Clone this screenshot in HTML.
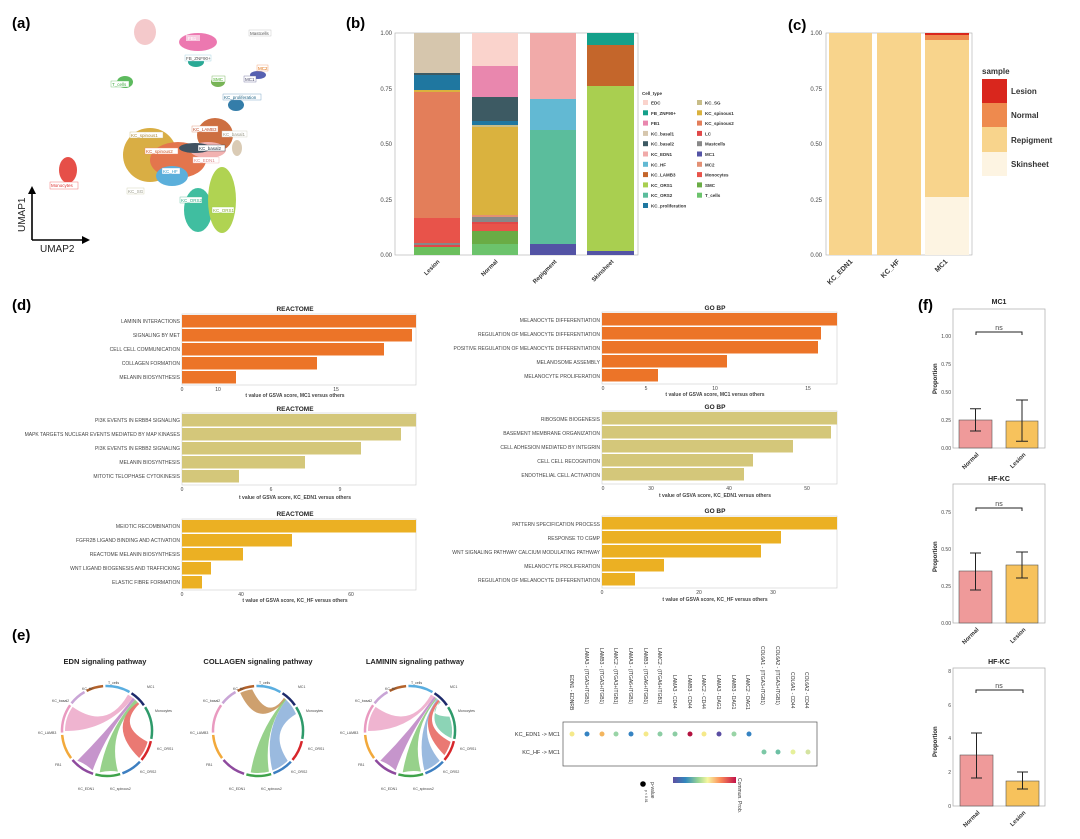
<!DOCTYPE html>
<html><head><meta charset="utf-8"><style>
body{margin:0;background:#fff}
svg{display:block;font-family:"Liberation Sans",sans-serif}
.pl{font-weight:bold;font-size:15px}
.t{font-size:5px;fill:#444}
.tk{font-size:6px;fill:#444}
.ti{font-size:6.5px;font-weight:bold;fill:#222}
</style></head><body>
<svg width="1080" height="839" viewBox="0 0 1080 839">
<defs>
<g id="chordring">
<circle r="45" fill="none" stroke="#5aaee0" stroke-width="2.5" stroke-dasharray="25.1 400" transform="rotate(-92)"/>
<circle r="45" fill="none" stroke="#1d2a6b" stroke-width="2.5" stroke-dasharray="17.3 400" transform="rotate(-57)"/>
<circle r="45" fill="none" stroke="#2e9a6a" stroke-width="2.5" stroke-dasharray="33 400" transform="rotate(-32)"/>
<circle r="45" fill="none" stroke="#d7262b" stroke-width="2.5" stroke-dasharray="21.2 400" transform="rotate(13)"/>
<circle r="45" fill="none" stroke="#3d7fc1" stroke-width="2.5" stroke-dasharray="21.2 400" transform="rotate(43)"/>
<circle r="45" fill="none" stroke="#3fa34a" stroke-width="2.5" stroke-dasharray="25.1 400" transform="rotate(73)"/>
<circle r="45" fill="none" stroke="#8e4a9e" stroke-width="2.5" stroke-dasharray="25.1 400" transform="rotate(108)"/>
<circle r="45" fill="none" stroke="#f2a93b" stroke-width="2.5" stroke-dasharray="25.1 400" transform="rotate(143)"/>
<circle r="45" fill="none" stroke="#e99ac0" stroke-width="2.5" stroke-dasharray="29 400" transform="rotate(178)"/>
<circle r="45" fill="none" stroke="#c9a5d6" stroke-width="2.5" stroke-dasharray="17.3 400" transform="rotate(218)"/>
<circle r="45" fill="none" stroke="#b4622a" stroke-width="2.5" stroke-dasharray="17.3 400" transform="rotate(243)"/>
</g>
</defs>

<!-- (a) -->
<text x="12" y="28" class="pl">(a)</text>
<g opacity="0.9">
<ellipse cx="145" cy="32" rx="11" ry="13" fill="#f3c4c6"/>
<ellipse cx="198" cy="42" rx="19" ry="9" fill="#ea6aa8"/>
<ellipse cx="196" cy="62" rx="8" ry="5" fill="#14a08a"/>
<ellipse cx="125" cy="82" rx="8" ry="6" fill="#4cb34d"/>
<ellipse cx="218" cy="82" rx="7" ry="5" fill="#6aac45"/>
<ellipse cx="258" cy="75" rx="8" ry="4" fill="#4550a8"/>
<ellipse cx="236" cy="105" rx="8" ry="6" fill="#1f6fa0"/>
<ellipse cx="68" cy="170" rx="9" ry="13" fill="#e43d35"/>
<ellipse cx="150" cy="155" rx="27" ry="27" fill="#d5a630"/>
<ellipse cx="178" cy="160" rx="28" ry="18" fill="#e0673a"/>
<ellipse cx="215" cy="135" rx="18" ry="17" fill="#c8602d"/>
<ellipse cx="208" cy="150" rx="18" ry="8" fill="#f1aaa9"/>
<ellipse cx="195" cy="148" rx="16" ry="5" fill="#2d4050"/>
<ellipse cx="172" cy="176" rx="16" ry="10" fill="#4aa7d8"/>
<ellipse cx="198" cy="210" rx="14" ry="22" fill="#2cb896"/>
<ellipse cx="222" cy="200" rx="14" ry="33" fill="#a8cf40"/>
<ellipse cx="237" cy="148" rx="5" ry="8" fill="#d6c6ad"/>
</g>
<g font-size="4.5" fill="#555">
<rect x="249" y="30" width="22" height="6" fill="#fff" stroke="#bbb" stroke-width=".4"/><text x="250" y="35">Mastcells</text>
<rect x="186" y="35" width="14" height="6" fill="#fff" opacity=".6"/><text x="188" y="40" fill="#fff">FB1</text>
<rect x="185" y="55" width="26" height="6" fill="#fff" stroke="#9cd" stroke-width=".4"/><text x="186" y="60">FB_ZNF90+</text>
<rect x="257" y="65" width="11" height="6" fill="#fff" stroke="#e96" stroke-width=".4"/><text x="258" y="70" fill="#d60">MC2</text>
<rect x="244" y="76" width="12" height="6" fill="#fff" stroke="#669" stroke-width=".4"/><text x="245" y="81" fill="#446">MC1</text>
<rect x="212" y="76" width="13" height="6" fill="#fff" stroke="#6a4" stroke-width=".4"/><text x="213" y="81" fill="#4a2">SMC</text>
<rect x="111" y="81" width="18" height="6" fill="#fff" stroke="#6b6" stroke-width=".4"/><text x="112" y="86" fill="#4a4">T_cells</text>
<rect x="223" y="94" width="38" height="6" fill="#fff" stroke="#69b" stroke-width=".4"/><text x="224" y="99" fill="#268">KC_proliferation</text>
<rect x="192" y="126" width="26" height="6" fill="#fff" stroke="#d86" stroke-width=".4"/><text x="193" y="131" fill="#b42">KC_LAMB3</text>
<rect x="222" y="131" width="25" height="6" fill="#fff" stroke="#ccb" stroke-width=".4"/><text x="223" y="136" fill="#998">KC_basal1</text>
<rect x="130" y="132" width="33" height="6" fill="#fff" stroke="#cb7" stroke-width=".4"/><text x="131" y="137" fill="#a83">KC_spinous1</text>
<rect x="198" y="145" width="27" height="6" fill="#fff" stroke="#345" stroke-width=".4"/><text x="199" y="150" fill="#234">KC_basal2</text>
<rect x="145" y="148" width="33" height="6" fill="#fff" stroke="#e86" stroke-width=".4"/><text x="146" y="153" fill="#c52">KC_spinous2</text>
<rect x="193" y="157" width="26" height="6" fill="#fff" stroke="#eaa" stroke-width=".4"/><text x="194" y="162" fill="#d88">KC_EDN1</text>
<rect x="162" y="168" width="18" height="6" fill="#fff" stroke="#6ad" stroke-width=".4"/><text x="163" y="173" fill="#39c">KC_HF</text>
<rect x="127" y="188" width="17" height="6" fill="#fff" stroke="#cca" stroke-width=".4"/><text x="128" y="193" fill="#998">KC_SG</text>
<rect x="180" y="197" width="22" height="6" fill="#fff" stroke="#5b9" stroke-width=".4"/><text x="181" y="202" fill="#3a8">KC_ORS2</text>
<rect x="212" y="207" width="22" height="6" fill="#fff" stroke="#9c4" stroke-width=".4"/><text x="213" y="212" fill="#8a3">KC_ORS1</text>
<rect x="50" y="182" width="28" height="7" fill="#fff" stroke="#e55" stroke-width=".4"/><text x="51" y="187" fill="#d33">Monocytes</text>
</g>
<path d="M32 240 V192 M32 240 H84" stroke="#000" stroke-width="1.6" fill="none"/>
<path d="M28 194 L32 186 L36 194Z M82 236 L90 240 L82 244Z" fill="#000"/>
<text x="25" y="232" font-size="10" transform="rotate(-90 25 232)" fill="#222">UMAP1</text>
<text x="40" y="252" font-size="10" fill="#222">UMAP2</text>

<!-- (b) -->
<text x="346" y="28" class="pl">(b)</text>
<rect x="395" y="33" width="243" height="222" fill="none" stroke="#aaa" stroke-width=".6"/>
<g class="tk" text-anchor="end" font-size="5.5">
<text x="392" y="35">1.00</text><text x="392" y="91">0.75</text><text x="392" y="146">0.50</text><text x="392" y="202">0.25</text><text x="392" y="257">0.00</text>
</g>
<g>
<rect x="414" y="33" width="46" height="40" fill="#d6c6ad"/>
<rect x="414" y="73" width="46" height="2" fill="#3d5a63"/>
<rect x="414" y="75" width="46" height="15" fill="#1f77a0"/>
<rect x="414" y="90" width="46" height="2" fill="#dab23e"/>
<rect x="414" y="92" width="46" height="126" fill="#e37e5a"/>
<rect x="414" y="218" width="46" height="25" fill="#e8534a"/>
<rect x="414" y="243" width="46" height="2" fill="#888"/>
<rect x="414" y="245" width="46" height="2" fill="#e04848"/>
<rect x="414" y="247" width="46" height="8" fill="#6bbf5d"/>
</g>
<g>
<rect x="472" y="33" width="46" height="33" fill="#fad3cc"/>
<rect x="472" y="66" width="46" height="31" fill="#e987ae"/>
<rect x="472" y="97" width="46" height="24" fill="#3d5a63"/>
<rect x="472" y="121" width="46" height="4" fill="#1f77a0"/>
<rect x="472" y="125" width="46" height="2" fill="#c8bd88"/>
<rect x="472" y="127" width="46" height="88" fill="#dab23e"/>
<rect x="472" y="215" width="46" height="2" fill="#e39074"/>
<rect x="472" y="217" width="46" height="5" fill="#888"/>
<rect x="472" y="222" width="46" height="2" fill="#e04848"/>
<rect x="472" y="224" width="46" height="7" fill="#e8534a"/>
<rect x="472" y="231" width="46" height="13" fill="#6aac45"/>
<rect x="472" y="244" width="46" height="11" fill="#6cc36c"/>
</g>
<g>
<rect x="530" y="33" width="46" height="66" fill="#f1aaa9"/>
<rect x="530" y="99" width="46" height="31" fill="#62b9d3"/>
<rect x="530" y="130" width="46" height="114" fill="#5bbd9c"/>
<rect x="530" y="244" width="46" height="11" fill="#5353a5"/>
</g>
<g>
<rect x="587" y="33" width="47" height="12" fill="#14a08a"/>
<rect x="587" y="45" width="47" height="41" fill="#c4662b"/>
<rect x="587" y="86" width="47" height="165" fill="#a9cf50"/>
<rect x="587" y="251" width="47" height="4" fill="#5353a5"/>
</g>
<g font-size="6" font-weight="bold" fill="#333" text-anchor="end">
<text transform="translate(440,262) rotate(-45)">Lesion</text>
<text transform="translate(498,262) rotate(-45)">Normal</text>
<text transform="translate(557,262) rotate(-45)">Repigment</text>
<text transform="translate(614,262) rotate(-45)">Skinsheet</text>
</g>
<g font-size="4.5" fill="#333" font-weight="bold">
<text x="642" y="95">Cell_type</text>
<rect x="643" y="100" width="5" height="5" fill="#fad3cc"/><text x="651" y="104.5">EDC</text>
<rect x="643" y="110.3" width="5" height="5" fill="#14a08a"/><text x="651" y="114.8">FB_ZNF90+</text>
<rect x="643" y="120.6" width="5" height="5" fill="#e987ae"/><text x="651" y="125.1">FB1</text>
<rect x="643" y="130.9" width="5" height="5" fill="#d6c6ad"/><text x="651" y="135.4">KC_basal1</text>
<rect x="643" y="141.2" width="5" height="5" fill="#3d5a63"/><text x="651" y="145.7">KC_basal2</text>
<rect x="643" y="151.5" width="5" height="5" fill="#f1aaa9"/><text x="651" y="156">KC_EDN1</text>
<rect x="643" y="161.8" width="5" height="5" fill="#62b9d3"/><text x="651" y="166.3">KC_HF</text>
<rect x="643" y="172.1" width="5" height="5" fill="#c4662b"/><text x="651" y="176.6">KC_LAMB3</text>
<rect x="643" y="182.4" width="5" height="5" fill="#a9cf50"/><text x="651" y="186.9">KC_ORS1</text>
<rect x="643" y="192.7" width="5" height="5" fill="#5bbd9c"/><text x="651" y="197.2">KC_ORS2</text>
<rect x="643" y="203" width="5" height="5" fill="#1f77a0"/><text x="651" y="207.5">KC_proliferation</text>
<rect x="697" y="100" width="5" height="5" fill="#c8bd88"/><text x="705" y="104.5">KC_SG</text>
<rect x="697" y="110.3" width="5" height="5" fill="#dab23e"/><text x="705" y="114.8">KC_spinous1</text>
<rect x="697" y="120.6" width="5" height="5" fill="#e37e5a"/><text x="705" y="125.1">KC_spinous2</text>
<rect x="697" y="130.9" width="5" height="5" fill="#e04848"/><text x="705" y="135.4">LC</text>
<rect x="697" y="141.2" width="5" height="5" fill="#888"/><text x="705" y="145.7">Mastcells</text>
<rect x="697" y="151.5" width="5" height="5" fill="#5353a5"/><text x="705" y="156">MC1</text>
<rect x="697" y="161.8" width="5" height="5" fill="#e39074"/><text x="705" y="166.3">MC2</text>
<rect x="697" y="172.1" width="5" height="5" fill="#e8534a"/><text x="705" y="176.6">Monocytes</text>
<rect x="697" y="182.4" width="5" height="5" fill="#6aac45"/><text x="705" y="186.9">SMC</text>
<rect x="697" y="192.7" width="5" height="5" fill="#6cc36c"/><text x="705" y="197.2">T_cells</text>
</g>

<!-- (c) -->
<text x="788" y="30" class="pl">(c)</text>
<rect x="826" y="33" width="146" height="222" fill="none" stroke="#aaa" stroke-width=".6"/>
<g class="tk" text-anchor="end" font-size="6.5">
<text x="822" y="35">1.00</text><text x="822" y="91">0.75</text><text x="822" y="146">0.50</text><text x="822" y="202">0.25</text><text x="822" y="257">0.00</text>
</g>
<rect x="829" y="33" width="43" height="222" fill="#f8d48c"/>
<rect x="877" y="33" width="44" height="222" fill="#f8d48c"/>
<rect x="925" y="33" width="44" height="222" fill="#f8d48c"/>
<rect x="925" y="33" width="44" height="2" fill="#d9261d"/>
<rect x="925" y="35" width="44" height="5" fill="#ee8a4e"/>
<rect x="925" y="197" width="44" height="58" fill="#fdf4e2"/>
<g font-size="7" font-weight="bold" fill="#333" text-anchor="end">
<text transform="translate(853,262) rotate(-45)">KC_EDN1</text>
<text transform="translate(900,262) rotate(-45)">KC_HF</text>
<text transform="translate(948,262) rotate(-45)">MC1</text>
</g>
<text x="982" y="74" font-size="8" font-weight="bold" fill="#333">sample</text>
<rect x="982" y="79" width="25" height="24" fill="#d9261d"/>
<rect x="982" y="103" width="25" height="24" fill="#ee8a4e"/>
<rect x="982" y="127" width="25" height="25" fill="#f8d48c"/>
<rect x="982" y="152" width="25" height="24" fill="#fdf4e2"/>
<g font-size="8" font-weight="bold" fill="#333">
<text x="1011" y="94">Lesion</text><text x="1011" y="118">Normal</text><text x="1011" y="143">Repigment</text><text x="1011" y="167">Skinsheet</text>
</g>

<!-- (d) -->
<text x="12" y="310" class="pl">(d)</text>
<g class="t" text-anchor="end">
<text x="295" y="311" class="ti" text-anchor="middle">REACTOME</text>
<rect x="182" y="314" width="234" height="71" fill="none" stroke="#ccc" stroke-width=".6"/>
<rect x="182" y="315" width="234" height="12.5" fill="#ec7428"/>
<rect x="182" y="329" width="230" height="12.5" fill="#ec7428"/>
<rect x="182" y="343" width="202" height="12.5" fill="#ec7428"/>
<rect x="182" y="357" width="135" height="12.5" fill="#ec7428"/>
<rect x="182" y="371" width="54" height="12.5" fill="#ec7428"/>
<text x="180" y="323">LAMININ INTERACTIONS</text><text x="180" y="337">SIGNALING BY MET</text><text x="180" y="351">CELL CELL COMMUNICATION</text><text x="180" y="365">COLLAGEN FORMATION</text><text x="180" y="379">MELANIN BIOSYNTHESIS</text>
<g text-anchor="middle"><text x="182" y="391">0</text><text x="218" y="391">10</text><text x="336" y="391">15</text>
<text x="295" y="397" font-weight="bold">t value of GSVA score, MC1 versus others</text></g>
<text x="295" y="411" class="ti" text-anchor="middle">REACTOME</text>
<rect x="182" y="413" width="234" height="72" fill="none" stroke="#ccc" stroke-width=".6"/>
<rect x="182" y="414" width="234" height="12.5" fill="#d4c77a"/>
<rect x="182" y="428" width="219" height="12.5" fill="#d4c77a"/>
<rect x="182" y="442" width="179" height="12.5" fill="#d4c77a"/>
<rect x="182" y="456" width="123" height="12.5" fill="#d4c77a"/>
<rect x="182" y="470" width="57" height="12.5" fill="#d4c77a"/>
<text x="180" y="422">PI3K EVENTS IN ERBB4 SIGNALING</text><text x="180" y="436">MAPK TARGETS NUCLEAR EVENTS MEDIATED BY MAP KINASES</text><text x="180" y="450">PI3K EVENTS IN ERBB2 SIGNALING</text><text x="180" y="464">MELANIN BIOSYNTHESIS</text><text x="180" y="478">MITOTIC TELOPHASE CYTOKINESIS</text>
<g text-anchor="middle"><text x="182" y="491">0</text><text x="271" y="491">6</text><text x="340" y="491">9</text>
<text x="295" y="499" font-weight="bold">t value of GSVA score, KC_EDN1 versus others</text></g>
<text x="295" y="516" class="ti" text-anchor="middle">REACTOME</text>
<rect x="182" y="519" width="234" height="71" fill="none" stroke="#ccc" stroke-width=".6"/>
<rect x="182" y="520" width="234" height="12.5" fill="#ebb023"/>
<rect x="182" y="534" width="110" height="12.5" fill="#ebb023"/>
<rect x="182" y="548" width="61" height="12.5" fill="#ebb023"/>
<rect x="182" y="562" width="29" height="12.5" fill="#ebb023"/>
<rect x="182" y="576" width="20" height="12.5" fill="#ebb023"/>
<text x="180" y="528">MEIOTIC RECOMBINATION</text><text x="180" y="542">FGFR2B LIGAND BINDING AND ACTIVATION</text><text x="180" y="556">REACTOME MELANIN BIOSYNTHESIS</text><text x="180" y="570">WNT LIGAND BIOGENESIS AND TRAFFICKING</text><text x="180" y="584">ELASTIC FIBRE FORMATION</text>
<g text-anchor="middle"><text x="182" y="596">0</text><text x="241" y="596">40</text><text x="351" y="596">60</text>
<text x="295" y="602" font-weight="bold">t value of GSVA score, KC_HF versus others</text></g>

<text x="715" y="310" class="ti" text-anchor="middle">GO BP</text>
<rect x="602" y="312" width="235" height="72" fill="none" stroke="#ccc" stroke-width=".6"/>
<rect x="602" y="313" width="235" height="12.5" fill="#ec7428"/>
<rect x="602" y="327" width="219" height="12.5" fill="#ec7428"/>
<rect x="602" y="341" width="216" height="12.5" fill="#ec7428"/>
<rect x="602" y="355" width="125" height="12.5" fill="#ec7428"/>
<rect x="602" y="369" width="56" height="12.5" fill="#ec7428"/>
<text x="600" y="322">MELANOCYTE DIFFERENTIATION</text><text x="600" y="336">REGULATION OF MELANOCYTE DIFFERENTIATION</text><text x="600" y="350">POSITIVE REGULATION OF MELANOCYTE DIFFERENTIATION</text><text x="600" y="364">MELANOSOME ASSEMBLY</text><text x="600" y="378">MELANOCYTE PROLIFERATION</text>
<g text-anchor="middle"><text x="603" y="390">0</text><text x="646" y="390">5</text><text x="715" y="390">10</text><text x="808" y="390">15</text>
<text x="715" y="396" font-weight="bold">t value of GSVA score, MC1 versus others</text></g>
<text x="715" y="409" class="ti" text-anchor="middle">GO BP</text>
<rect x="602" y="411" width="235" height="73" fill="none" stroke="#ccc" stroke-width=".6"/>
<rect x="602" y="412" width="235" height="12.5" fill="#d4c77a"/>
<rect x="602" y="426" width="229" height="12.5" fill="#d4c77a"/>
<rect x="602" y="440" width="191" height="12.5" fill="#d4c77a"/>
<rect x="602" y="454" width="151" height="12.5" fill="#d4c77a"/>
<rect x="602" y="468" width="142" height="12.5" fill="#d4c77a"/>
<text x="600" y="421">RIBOSOME BIOGENESIS</text><text x="600" y="435">BASEMENT MEMBRANE ORGANIZATION</text><text x="600" y="449">CELL ADHESION MEDIATED BY INTEGRIN</text><text x="600" y="463">CELL CELL RECOGNITION</text><text x="600" y="477">ENDOTHELIAL CELL ACTIVATION</text>
<g text-anchor="middle"><text x="603" y="490">0</text><text x="651" y="490">30</text><text x="729" y="490">40</text><text x="807" y="490">50</text>
<text x="715" y="497" font-weight="bold">t value of GSVA score, KC_EDN1 versus others</text></g>
<text x="715" y="513" class="ti" text-anchor="middle">GO BP</text>
<rect x="602" y="516" width="235" height="72" fill="none" stroke="#ccc" stroke-width=".6"/>
<rect x="602" y="517" width="235" height="12.5" fill="#ebb023"/>
<rect x="602" y="531" width="179" height="12.5" fill="#ebb023"/>
<rect x="602" y="545" width="159" height="12.5" fill="#ebb023"/>
<rect x="602" y="559" width="62" height="12.5" fill="#ebb023"/>
<rect x="602" y="573" width="33" height="12.5" fill="#ebb023"/>
<text x="600" y="526">PATTERN SPECIFICATION PROCESS</text><text x="600" y="540">RESPONSE TO CGMP</text><text x="600" y="554">WNT SIGNALING PATHWAY CALCIUM MODULATING PATHWAY</text><text x="600" y="568">MELANOCYTE PROLIFERATION</text><text x="600" y="582">REGULATION OF MELANOCYTE DIFFERENTIATION</text>
<g text-anchor="middle"><text x="602" y="594">0</text><text x="699" y="594">20</text><text x="773" y="594">30</text>
<text x="715" y="601" font-weight="bold">t value of GSVA score, KC_HF versus others</text></g>
</g>

<!-- (f) -->
<text x="918" y="310" class="pl">(f)</text>
<g font-size="6" fill="#444">
<text x="999" y="304" text-anchor="middle" font-weight="bold" font-size="7" fill="#222">MC1</text>
<rect x="953" y="309" width="92" height="139" fill="none" stroke="#aaa" stroke-width=".7"/>
<g text-anchor="end" font-size="5"><text x="951" y="338">1.00</text><text x="951" y="366">0.75</text><text x="951" y="394">0.50</text><text x="951" y="422">0.25</text><text x="951" y="450">0.00</text></g>
<text transform="translate(937,394) rotate(-90)" font-weight="bold" fill="#222">Proportion</text>
<rect x="959" y="420" width="33" height="28" fill="#ef9a9a" stroke="#555" stroke-width=".6"/>
<rect x="1006" y="421" width="32" height="27" fill="#f7c25c" stroke="#555" stroke-width=".6"/>
<path d="M975.5 431 V408.8 M970 431 H981 M970 408.8 H981 M1022 441.3 V400 M1016 441.3 H1028 M1016 400 H1028 M976 335 V332 H1022 V335" stroke="#222" stroke-width="1" fill="none"/>
<text x="999" y="330" text-anchor="middle" font-size="7">ns</text>
<g font-weight="bold" text-anchor="end" fill="#333"><text transform="translate(979,455) rotate(-45)">Normal</text><text transform="translate(1026,455) rotate(-45)">Lesion</text></g>

<text x="999" y="481" text-anchor="middle" font-weight="bold" font-size="7" fill="#222">HF-KC</text>
<rect x="953" y="484" width="92" height="139" fill="none" stroke="#aaa" stroke-width=".7"/>
<g text-anchor="end" font-size="5"><text x="951" y="514">0.75</text><text x="951" y="551">0.50</text><text x="951" y="588">0.25</text><text x="951" y="625">0.00</text></g>
<text transform="translate(937,572) rotate(-90)" font-weight="bold" fill="#222">Proportion</text>
<rect x="959" y="571" width="33" height="52" fill="#ef9a9a" stroke="#555" stroke-width=".6"/>
<rect x="1006" y="565" width="32" height="58" fill="#f7c25c" stroke="#555" stroke-width=".6"/>
<path d="M975.5 590 V553 M970 590 H981 M970 553 H981 M1022 578 V552 M1016 578 H1028 M1016 552 H1028 M976 511 V508 H1022 V511" stroke="#222" stroke-width="1" fill="none"/>
<text x="999" y="506" text-anchor="middle" font-size="7">ns</text>
<g font-weight="bold" text-anchor="end" fill="#333"><text transform="translate(979,630) rotate(-45)">Normal</text><text transform="translate(1026,630) rotate(-45)">Lesion</text></g>

<text x="999" y="664" text-anchor="middle" font-weight="bold" font-size="7" fill="#222">HF-KC</text>
<rect x="953" y="668" width="92" height="138" fill="none" stroke="#aaa" stroke-width=".7"/>
<g text-anchor="end" font-size="5"><text x="951" y="673">8</text><text x="951" y="707">6</text><text x="951" y="740">4</text><text x="951" y="774">2</text><text x="951" y="808">0</text></g>
<text transform="translate(937,757) rotate(-90)" font-weight="bold" fill="#222">Proportion</text>
<rect x="960" y="755" width="33" height="51" fill="#ef9a9a" stroke="#555" stroke-width=".6"/>
<rect x="1006" y="781" width="33" height="25" fill="#f7c25c" stroke="#555" stroke-width=".6"/>
<path d="M976.5 778 V733 M971 778 H982 M971 733 H982 M1022.5 789 V772 M1017 789 H1028 M1017 772 H1028 M976 693 V690 H1023 V693" stroke="#222" stroke-width="1" fill="none"/>
<text x="999" y="688" text-anchor="middle" font-size="7">ns</text>
<g font-weight="bold" text-anchor="end" fill="#333"><text transform="translate(980,813) rotate(-45)">Normal</text><text transform="translate(1026,813) rotate(-45)">Lesion</text></g>
</g>

<!-- (e) -->
<text x="12" y="640" class="pl">(e)</text>
<g font-size="7.5" font-weight="bold" fill="#222" text-anchor="middle">
<text x="105" y="664">EDN signaling pathway</text>
<text x="258" y="664">COLLAGEN signaling pathway</text>
<text x="415" y="664">LAMININ signaling pathway</text>
</g>
<g transform="translate(107,731)">
<use href="#chordring"/>
<path d="M-42 0 A42 42 0 0 1 -34.4 -24.1 Q0 0 21 -36.4 A42 42 0 0 1 25.9 -33.1 Q0 0 -42 0Z" fill="#eca7c8" opacity=".85"/>
<path d="M-14.4 39.5 A42 42 0 0 0 -29.7 29.7 Q0 0 25.9 -33.1 A42 42 0 0 1 28.1 -31.2 Q0 0 -14.4 39.5Z" fill="#c08ac6" opacity=".9"/>
<path d="M10.9 40.6 A42 42 0 0 0 -7.3 41.4 Q0 0 28.1 -31.2 A42 42 0 0 1 30.7 -28.6 Q0 0 10.9 40.6Z" fill="#8ccc7e" opacity=".9"/>
<path d="M40.6 10.9 A42 42 0 0 1 32.2 27 Q0 -5 30.7 -28.6 A42 42 0 0 1 32.2 -27 Q10 -5 40.6 10.9Z" fill="#e86a64" opacity=".9"/>
</g>
<g transform="translate(258,731)">
<use href="#chordring"/>
<path d="M-17.8 -38.1 A42 42 0 0 1 -5.8 -41.6 Q10 -10 25.9 -33.1 A42 42 0 0 1 28.1 -31.2 Q0 0 -17.8 -38.1Z" fill="#c9965e" opacity=".9"/>
<path d="M29.7 29.7 A42 42 0 0 1 14.4 39.5 Q5 0 28.1 -31.2 A42 42 0 0 1 38 -17 Q10 0 29.7 29.7Z" fill="#8fb3db" opacity=".9"/>
<path d="M10.9 40.6 A42 42 0 0 1 -7.3 41.4 Q0 0 27 -32 A42 42 0 0 1 28.1 -31.2 Q5 0 10.9 40.6Z" fill="#8ccc7e" opacity=".9"/>
</g>
<g transform="translate(410,731)">
<use href="#chordring"/>
<path d="M-42 0 A42 42 0 0 1 -34.4 -24.1 Q0 0 21 -36.4 A42 42 0 0 1 24.1 -34.4 Q0 0 -42 0Z" fill="#eca7c8" opacity=".85"/>
<path d="M-14.4 39.5 A42 42 0 0 0 -29.7 29.7 Q0 0 24.1 -34.4 A42 42 0 0 1 25.9 -33.1 Q0 0 -14.4 39.5Z" fill="#c08ac6" opacity=".9"/>
<path d="M10.9 40.6 A42 42 0 0 0 -7.3 41.4 Q0 0 25.9 -33.1 A42 42 0 0 1 27 -32.2 Q0 0 10.9 40.6Z" fill="#8ccc7e" opacity=".9"/>
<path d="M29.7 29.7 A42 42 0 0 1 14.4 39.5 Q5 0 27 -32.2 A42 42 0 0 1 28.1 -31.2 Q5 0 29.7 29.7Z" fill="#8fb3db" opacity=".9"/>
<path d="M40.6 10.9 A42 42 0 0 1 34.4 24.1 Q5 -5 28.1 -31.2 A42 42 0 0 1 29.7 -29.7 Q10 -5 40.6 10.9Z" fill="#e86a64" opacity=".9"/>
<path d="M39.5 -14.4 A42 42 0 0 1 41.4 7.3 Q15 -5 29.7 -29.7 A42 42 0 0 1 30.7 -28.6 Q15 -15 39.5 -14.4Z" fill="#7fcfae" opacity=".9"/>
</g>
<g font-size="3.5" fill="#444">
<text x="82" y="690">KC_HF</text><text x="108" y="684">T_cells</text><text x="147" y="688">MC1</text><text x="155" y="712">Monocytes</text><text x="157" y="750">KC_ORS1</text><text x="140" y="773">KC_ORS2</text><text x="110" y="790">KC_spinous2</text><text x="78" y="790">KC_EDN1</text><text x="55" y="766">FB1</text><text x="38" y="734">KC_LAMB3</text><text x="52" y="702">KC_basal2</text>
<text x="233" y="690">KC_HF</text><text x="259" y="684">T_cells</text><text x="298" y="688">MC1</text><text x="306" y="712">Monocytes</text><text x="308" y="750">KC_ORS1</text><text x="291" y="773">KC_ORS2</text><text x="261" y="790">KC_spinous2</text><text x="229" y="790">KC_EDN1</text><text x="206" y="766">FB1</text><text x="190" y="734">KC_LAMB3</text><text x="203" y="702">KC_basal2</text>
<text x="385" y="690">KC_HF</text><text x="411" y="684">T_cells</text><text x="450" y="688">MC1</text><text x="458" y="712">Monocytes</text><text x="460" y="750">KC_ORS1</text><text x="443" y="773">KC_ORS2</text><text x="413" y="790">KC_spinous2</text><text x="381" y="790">KC_EDN1</text><text x="358" y="766">FB1</text><text x="340" y="734">KC_LAMB3</text><text x="355" y="702">KC_basal2</text>
</g>

<rect x="563" y="722" width="254" height="44" fill="none" stroke="#555" stroke-width=".7"/>
<g font-size="5.5" fill="#333">
<text x="560" y="736" text-anchor="end">KC_EDN1 -&gt; MC1</text>
<text x="560" y="754" text-anchor="end">KC_HF -&gt; MC1</text>
</g>
<g font-size="5" fill="#333">
<text transform="translate(570,675) rotate(90)">EDN1 - EDNRB</text>
<text transform="translate(585,648) rotate(90)">LAMA3 - (ITGA3+ITGB1)</text>
<text transform="translate(600,648) rotate(90)">LAMB3 - (ITGA3+ITGB1)</text>
<text transform="translate(614,648) rotate(90)">LAMC2 - (ITGA3+ITGB1)</text>
<text transform="translate(629,648) rotate(90)">LAMA3 - (ITGA6+ITGB1)</text>
<text transform="translate(644,648) rotate(90)">LAMB3 - (ITGA6+ITGB1)</text>
<text transform="translate(658,648) rotate(90)">LAMC2 - (ITGA6+ITGB1)</text>
<text transform="translate(673,675) rotate(90)">LAMA3 - CD44</text>
<text transform="translate(688,675) rotate(90)">LAMB3 - CD44</text>
<text transform="translate(702,675) rotate(90)">LAMC2 - CD44</text>
<text transform="translate(717,675) rotate(90)">LAMA3 - DAG1</text>
<text transform="translate(732,675) rotate(90)">LAMB3 - DAG1</text>
<text transform="translate(746,675) rotate(90)">LAMC2 - DAG1</text>
<text transform="translate(761,646) rotate(90)">COL6A1 - (ITGA3+ITGB1)</text>
<text transform="translate(776,646) rotate(90)">COL6A2 - (ITGA3+ITGB1)</text>
<text transform="translate(791,672) rotate(90)">COL6A1 - CD44</text>
<text transform="translate(805,672) rotate(90)">COL6A2 - CD44</text>
</g>
<g>
<circle cx="572" cy="734" r="2.5" fill="#f5e98a"/>
<circle cx="587" cy="734" r="2.5" fill="#3583c2"/>
<circle cx="602" cy="734" r="2.5" fill="#f3b55e"/>
<circle cx="616" cy="734" r="2.5" fill="#99d4a6"/>
<circle cx="631" cy="734" r="2.5" fill="#3583c2"/>
<circle cx="646" cy="734" r="2.5" fill="#f5e98a"/>
<circle cx="660" cy="734" r="2.5" fill="#8ccda4"/>
<circle cx="675" cy="734" r="2.5" fill="#8ccda4"/>
<circle cx="690" cy="734" r="2.5" fill="#b3123f"/>
<circle cx="704" cy="734" r="2.5" fill="#f5e98a"/>
<circle cx="719" cy="734" r="2.5" fill="#5a4ea3"/>
<circle cx="734" cy="734" r="2.5" fill="#99d4a6"/>
<circle cx="749" cy="734" r="2.5" fill="#3583c2"/>
<circle cx="764" cy="752" r="2.5" fill="#7cc8a6"/>
<circle cx="778" cy="752" r="2.5" fill="#6cc0a4"/>
<circle cx="793" cy="752" r="2.5" fill="#e6f09a"/>
<circle cx="808" cy="752" r="2.5" fill="#d4e3a0"/>
</g>
<circle cx="643" cy="784" r="2.8" fill="#000"/>
<text transform="translate(651,782) rotate(90)" font-size="5" fill="#333">p-value</text>
<text transform="translate(645,790) rotate(90)" font-size="3.5" fill="#333">p &lt; 0.01</text>
<defs><linearGradient id="sp" x1="0" x2="1"><stop offset="0" stop-color="#5e4fa2"/><stop offset=".2" stop-color="#3288bd"/><stop offset=".4" stop-color="#99d594"/><stop offset=".55" stop-color="#f7f7a0"/><stop offset=".75" stop-color="#fc8d59"/><stop offset="1" stop-color="#c2124a"/></linearGradient></defs>
<rect x="673" y="777" width="63" height="6" fill="url(#sp)"/>
<text transform="translate(738,778) rotate(90)" font-size="5" fill="#333">Commun. Prob.</text>
</svg>
</body></html>
